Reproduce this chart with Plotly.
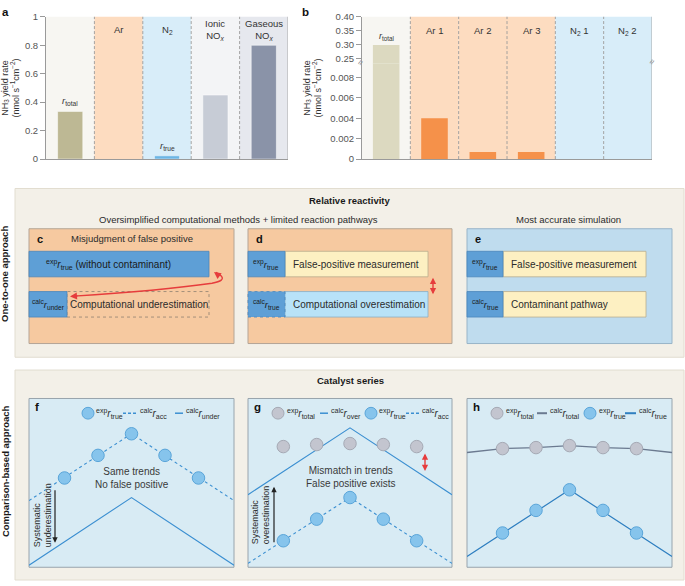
import plotly.graph_objects as go

W, H = 685, 586
FONT = "Liberation Sans, Arial, sans-serif"

# ---------------- data ----------------
a_categories = ["r_total", "Ar", "N2", "Ionic NOx", "Gaseous NOx"]
a_values = [0.335, None, 0.023, 0.45, 0.80]
a_bar_colors = ["#bdb894", "#f5914a", "#6cb5e4", "#c7ccd6", "#8a93a8"]
a_bg_colors = ["#f7f6f2", "#fddcc0", "#d8edf9", "#f3f4f6", "#e6e8ee"]
a_column_labels = ["", "Ar", "N<sub>2</sub>", "Ionic<br>NO<sub><i>x</i></sub>", "Gaseous<br>NO<sub><i>x</i></sub>"]
a_ticks = [0, 0.2, 0.4, 0.6, 0.8, 1]
a_ticktext = ["0", "0.2", "0.4", "0.6", "0.8", "1"]

b_categories = ["r_total", "Ar 1", "Ar 2", "Ar 3", "N2 1", "N2 2"]
b_values = [0.298, 0.004, 0.0007, 0.0007, None, None]
b_bar_colors = ["#dcd9c0", "#f5914a", "#f5914a", "#f5914a", "#6cb5e4", "#6cb5e4"]
b_bg_colors = ["#f7f6f2", "#fddcc0", "#fddcc0", "#fddcc0", "#d8edf9", "#d8edf9"]
b_column_labels = ["", "Ar 1", "Ar 2", "Ar 3", "N<sub>2</sub> 1", "N<sub>2</sub> 2"]
b_low_ticks = [0, 0.002, 0.004, 0.006, 0.008]
b_low_ticktext = ["0", "0.002", "0.004", "0.006", "0.008"]
b_high_ticks = [0.25, 0.30, 0.35, 0.40]
b_high_ticktext = ["0.25", "0.30", "0.35", "0.40"]

series_x = [-2, -1, 0, 1, 2]
line_x = [-3.06, 0, 3.06]
f_exp_true = [5.29, 6.63, 7.91, 6.63, 5.29]
f_calc_acc = [3.95, 7.91, 3.95]
f_calc_under = [0.12, 4.13, 0.12]
g_exp_total = [7.15, 7.27, 7.33, 7.27, 7.15]
g_calc_over = [4.30, 8.26, 4.30]
g_exp_true = [1.57, 2.85, 4.13, 2.85, 1.57]
g_calc_acc = [0.23, 4.13, 0.23]
h_exp_total = [7.03, 7.09, 7.21, 7.09, 7.03]
h_calc_total_x = [-3.06, -2, -1, 0, 1, 2, 3.06]
h_calc_total = [6.80, 7.03, 7.09, 7.21, 7.09, 7.03, 6.80]
h_exp_true = [2.03, 3.37, 4.59, 3.37, 2.03]
h_calc_true = [0.64, 4.59, 0.64]

# ---------------- helpers ----------------
def X(px):
    return px / W

def Y(py):
    return 1 - py / H

shapes = []
annotations = []

def rect(x0, y0, x1, y1, fill, line="rgba(0,0,0,0)", lw=1, dash="solid", layer="below"):
    shapes.append(dict(type="rect", xref="paper", yref="paper", x0=X(x0), x1=X(x1), y0=Y(y1), y1=Y(y0),
                       fillcolor=fill, line=dict(color=line, width=lw, dash=dash), layer=layer))

def text(x, y, t, size=9, color="#2b2b2b", xanchor="center", yanchor="middle", bold=False, angle=0, align="center"):
    if bold:
        t = "<b>" + t + "</b>"
    annotations.append(dict(x=X(x), y=Y(y), xref="paper", yref="paper", text=t, showarrow=False,
                            xanchor=xanchor, yanchor=yanchor, textangle=angle, align=align,
                            font=dict(size=size, color=color, family=FONT)))

def arrow(x, y, ax, ay, color, width=1.3, side="end", size=1.0):
    annotations.append(dict(x=X(x), y=Y(y), xref="paper", yref="paper", text="", showarrow=True,
                            ax=ax, ay=ay, arrowhead=2, arrowsize=size, arrowwidth=width,
                            arrowcolor=color, arrowside=side))

def hline(x0, x1, y, color, width=1.2, dash="solid"):
    shapes.append(dict(type="line", xref="paper", yref="paper", x0=X(x0), x1=X(x1), y0=Y(y), y1=Y(y),
                       line=dict(color=color, width=width, dash=dash), layer="above"))

def circ(cx, cy, r, fill, line):
    shapes.append(dict(type="circle", xref="paper", yref="paper", x0=X(cx - r), x1=X(cx + r),
                       y0=Y(cy + r), y1=Y(cy - r), fillcolor=fill, line=dict(color=line, width=1), layer="above"))

BLUE_M = "#86c4ec"; BLUE_ML = "#5aa5d9"
GREY_M = "#c3c5cf"; GREY_ML = "#a5a9b4"
LINE_BLUE = "#3b8fd1"; LINE_GREY = "#6b7a90"
RED = "#e63c3c"

fig = go.Figure()

# ---------------- panel a ----------------
for i, c in enumerate(a_bg_colors):
    shapes.append(dict(type="rect", xref="x", yref="y domain", x0=i - 0.5, x1=i + 0.5, y0=0, y1=1,
                       fillcolor=c, line=dict(width=0), layer="below"))
for i in range(1, len(a_categories)):
    shapes.append(dict(type="line", xref="x", yref="y domain", x0=i - 0.5, x1=i - 0.5, y0=0, y1=1,
                       line=dict(color="#9a9a9a", width=0.9, dash="3px,2px"), layer="below"))
shapes.append(dict(type="line", xref="x", yref="y domain", x0=len(a_categories) - 0.5, x1=len(a_categories) - 0.5,
                   y0=0, y1=1, line=dict(color="#aaaaaa", width=1), layer="above"))
fig.add_trace(go.Bar(x=list(range(len(a_categories))), y=a_values, width=0.52,
                     marker=dict(color=a_bar_colors, line=dict(color="rgba(255,255,255,0.5)", width=1)),
                     xaxis="x", yaxis="y", showlegend=False, hoverinfo="skip"))
for i, lab in enumerate(a_column_labels):
    if lab:
        annotations.append(dict(x=i, y=Y(24), xref="x", yref="paper", text=lab, showarrow=False,
                                xanchor="center", yanchor="middle", font=dict(size=9.5, color="#333", family=FONT)))
annotations.append(dict(x=0, y=a_values[0], xref="x", yref="y", text="<i>r</i><sub>total</sub>", showarrow=False,
                        yanchor="bottom", yshift=2, font=dict(size=9.5, color="#333", family=FONT)))
annotations.append(dict(x=2, y=a_values[2], xref="x", yref="y", text="<i>r</i><sub>true</sub>", showarrow=False,
                        yanchor="bottom", yshift=2, font=dict(size=9.5, color="#333", family=FONT)))
text(11, 84, "NH<sub>3</sub> yield rate<br>(nmol s<sup>−1</sup>cm<sup>−2</sup>)", size=9, angle=-90, color="#333")
text(5, 6, "a", size=11.5, bold=True, color="#111")

# ---------------- panel b ----------------
for i, c in enumerate(b_bg_colors):
    shapes.append(dict(type="rect", xref="x2", yref="paper", x0=i - 0.5, x1=i + 0.5, y0=Y(156), y1=Y(11),
                       fillcolor=c, line=dict(width=0), layer="below"))
for i in range(1, len(b_categories)):
    shapes.append(dict(type="line", xref="x2", yref="paper", x0=i - 0.5, x1=i - 0.5, y0=Y(156), y1=Y(11),
                       line=dict(color="#9a9a9a", width=0.9, dash="3px,2px"), layer="below"))
shapes.append(dict(type="line", xref="x2", yref="paper", x0=len(b_categories) - 0.5, x1=len(b_categories) - 0.5,
                   y0=Y(156), y1=Y(11), line=dict(color="#aaaaaa", width=1), layer="above"))
fig.add_trace(go.Bar(x=list(range(len(b_categories))), y=b_values, width=0.55,
                     marker=dict(color=b_bar_colors, line=dict(width=0)),
                     xaxis="x2", yaxis="y2", showlegend=False, hoverinfo="skip"))
fig.add_trace(go.Bar(x=list(range(len(b_categories))), y=b_values, width=0.55,
                     marker=dict(color=b_bar_colors, line=dict(width=0)),
                     xaxis="x2", yaxis="y3", showlegend=False, hoverinfo="skip"))
for i, lab in enumerate(b_column_labels):
    if lab:
        annotations.append(dict(x=i, y=Y(25), xref="x2", yref="paper", text=lab, showarrow=False,
                                xanchor="center", yanchor="middle", font=dict(size=9.5, color="#333", family=FONT)))
annotations.append(dict(x=0, y=b_values[0], xref="x2", yref="y3", text="<i>r</i><sub>total</sub>", showarrow=False,
                        yanchor="bottom", yshift=1, font=dict(size=9, color="#333", family=FONT)))
text(313, 84, "NH<sub>3</sub> yield rate<br>(nmol s<sup>−1</sup>cm<sup>−2</sup>)", size=9, angle=-90, color="#333")
text(305, 6, "b", size=11.5, bold=True, color="#111")
text(361, 57.5, "≈", size=9, color="#888", angle=-60)
text(652, 57.5, "≈", size=9, color="#888", angle=-60)

# ---------------- box 1: relative reactivity ----------------
rect(15, 186, 684, 358, "#f3f0e8", "#e2ddd0", 1)
text(350, 198, "Relative reactivity", size=9.5, bold=True, color="#1a1a1a")
text(239, 218, "Oversimplified computational methods + limited reaction pathways", size=9.5, color="#2b2b2b")
text(568, 218, "Most accurate simulation", size=9.5, color="#2b2b2b")
text(5, 273, "One-to-one approach", size=9.5, bold=True, angle=-90, color="#1a1a1a")

DARK = "#5e9fd6"; DARK_L = "#4a86bb"
YEL = "#fdf0c2"; YEL_L = "#b9ad8e"
LBLUE = "#b8e2f8"; LBLUE_L = "#8aaec4"

# c
rect(29, 227, 234, 344, "#f6c9a0", "#b4a596", 1)
text(35, 237, "c", size=11, bold=True, color="#111", xanchor="left")
text(132, 237, "Misjudgment of false positive", size=9.5)
rect(29, 250, 209, 276, DARK, DARK_L, 0.8)
text(108, 263, "<sup>exp</sup><i>r</i><sub>true</sub> (without contaminant)", size=10, color="#1a1a1a")
rect(67, 291, 209, 317, "rgba(0,0,0,0)", "#8e8070", 0.8, dash="dot")
rect(29, 291, 67, 317, DARK, DARK_L, 0.8)
text(48, 304, "<sup>calc</sup><i>r</i><sub>under</sub>", size=9.5, color="#1a1a1a")
text(139, 304, "Computational underestimation", size=10)
shapes.append(dict(type="path", xref="paper", yref="paper",
                   path="M {},{} Q {},{} {},{} Q {},{} {},{} Q {},{} {},{}".format(
                       X(74), Y(295.7), X(160), Y(290), X(212), Y(282.5),
                       X(226), Y(280), X(221), Y(275), X(218.5), Y(272.5), X(216), Y(271.5)),
                   line=dict(color=RED, width=1.4), layer="above"))
arrow(70, 296, 9, -0.7, RED, 1.4, size=1.0)
arrow(214, 271, 4, 3, RED, 1.4, size=1.0)

# d
rect(248, 227, 452, 344, "#f6c9a0", "#b4a596", 1)
text(254, 237, "d", size=11, bold=True, color="#111", xanchor="left")
rect(285, 250, 428, 276, YEL, YEL_L, 0.8)
rect(248, 250, 285, 276, DARK, DARK_L, 0.8)
text(266, 263, "<sup>exp</sup><i>r</i><sub>true</sub>", size=9.5, color="#1a1a1a")
text(291, 263, "False-positive measurement", size=10, xanchor="left")
rect(285, 291, 428, 317, LBLUE, LBLUE_L, 0.8)
rect(248, 291, 285, 317, DARK, DARK_L, 0.8, dash="dot")
text(266, 304, "<sup>calc</sup><i>r</i><sub>true</sub>", size=9.5, color="#1a1a1a")
text(291, 304, "Computational overestimation", size=10, xanchor="left")
arrow(433, 277, 0, 18, RED, 1.4, side="end+start", size=0.9)

# e
rect(467, 227, 672, 344, "#bfdcee", "#98b4c8", 1)
text(473, 237, "e", size=11, bold=True, color="#111", xanchor="left")
rect(503, 250, 646, 276, YEL, YEL_L, 0.8)
rect(467, 250, 503, 276, DARK, DARK_L, 0.8)
text(485, 263, "<sup>exp</sup><i>r</i><sub>true</sub>", size=9.5, color="#1a1a1a")
text(509, 263, "False-positive measurement", size=10, xanchor="left")
rect(503, 291, 646, 317, YEL, YEL_L, 0.8)
rect(467, 291, 503, 317, DARK, DARK_L, 0.8)
text(485, 304, "<sup>calc</sup><i>r</i><sub>true</sub>", size=9.5, color="#1a1a1a")
text(509, 304, "Contaminant pathway", size=10, xanchor="left")

# ---------------- box 2: catalyst series ----------------
rect(15, 371, 684, 585, "#f3f0e8", "#e2ddd0", 1)
text(350, 382, "Catalyst series", size=9.5, bold=True, color="#1a1a1a")
text(5, 474, "Comparison-based approach", size=9.5, bold=True, angle=-90, color="#1a1a1a")

PANEL_BG = "#d8ebf4"; PANEL_L = "#98a4ad"
rect(29, 400, 234, 572, PANEL_BG, PANEL_L, 1)
rect(248, 400, 452, 572, PANEL_BG, PANEL_L, 1)
rect(467, 400, 672, 572, PANEL_BG, PANEL_L, 1)
text(33, 409, "f", size=11.5, bold=True, color="#111", xanchor="left")
text(252, 409, "g", size=11.5, bold=True, color="#111", xanchor="left")
text(471, 409, "h", size=11.5, bold=True, color="#111", xanchor="left")

LEG = 10
# f legend
circ(88, 415, 6, BLUE_M, BLUE_ML)
text(94, 415, "<sup>exp</sup><i>r</i><sub>true</sub>", size=LEG, xanchor="left")
hline(123, 137, 415, LINE_BLUE, 1.5, "3px,2px")
text(138, 415, "<sup>calc</sup><i>r</i><sub>acc</sub>", size=LEG, xanchor="left")
hline(175, 183, 415, LINE_BLUE, 1.5)
text(184, 415, "<sup>calc</sup><i>r</i><sub>under</sub>", size=LEG, xanchor="left")
# g legend
circ(278, 415, 6, GREY_M, GREY_ML)
text(285, 415, "<sup>exp</sup><i>r</i><sub>total</sub>", size=LEG, xanchor="left")
hline(320, 328, 415, LINE_BLUE, 1.5)
text(329, 415, "<sup>calc</sup><i>r</i><sub>over</sub>", size=LEG, xanchor="left")
circ(371, 415, 6, BLUE_M, BLUE_ML)
text(377, 415, "<sup>exp</sup><i>r</i><sub>true</sub>", size=LEG, xanchor="left")
hline(406, 419, 415, LINE_BLUE, 1.5, "3px,2px")
text(420, 415, "<sup>calc</sup><i>r</i><sub>acc</sub>", size=LEG, xanchor="left")
# h legend
circ(497, 415, 6, GREY_M, GREY_ML)
text(504, 415, "<sup>exp</sup><i>r</i><sub>total</sub>", size=LEG, xanchor="left")
hline(537, 547, 415, LINE_GREY, 2)
text(548, 415, "<sup>calc</sup><i>r</i><sub>total</sub>", size=LEG, xanchor="left")
circ(590, 415, 6, BLUE_M, BLUE_ML)
text(597, 415, "<sup>exp</sup><i>r</i><sub>true</sub>", size=LEG, xanchor="left")
hline(625, 636, 415, "#2f7fc0", 2)
text(637, 415, "<sup>calc</sup><i>r</i><sub>true</sub>", size=LEG, xanchor="left")

# f traces
fig.add_trace(go.Scatter(x=line_x, y=f_calc_acc, mode="lines", line=dict(color=LINE_BLUE, width=1.1, dash="3px,3px"),
                         xaxis="x3", yaxis="y4", showlegend=False, hoverinfo="skip"))
fig.add_trace(go.Scatter(x=line_x, y=f_calc_under, mode="lines", line=dict(color=LINE_BLUE, width=1.1),
                         xaxis="x3", yaxis="y4", showlegend=False, hoverinfo="skip"))
fig.add_trace(go.Scatter(x=series_x, y=f_exp_true, mode="markers",
                         marker=dict(size=12.5, color=BLUE_M, line=dict(color=BLUE_ML, width=1)),
                         xaxis="x3", yaxis="y4", showlegend=False, hoverinfo="skip"))
text(132, 481.5, "Same trends<br>No false positive", size=10, color="#3a3a3a")
arrow(55, 547, 0, -54, "#222222", 1.2, size=0.9)
text(43, 519, "Systematic<br>underestimation", size=9, angle=-90, align="left", color="#2b2b2b")

# g traces
fig.add_trace(go.Scatter(x=line_x, y=g_calc_over, mode="lines", line=dict(color=LINE_BLUE, width=1.1),
                         xaxis="x4", yaxis="y5", showlegend=False, hoverinfo="skip"))
fig.add_trace(go.Scatter(x=line_x, y=g_calc_acc, mode="lines", line=dict(color=LINE_BLUE, width=1.1, dash="3px,3px"),
                         xaxis="x4", yaxis="y5", showlegend=False, hoverinfo="skip"))
fig.add_trace(go.Scatter(x=series_x, y=g_exp_total, mode="markers",
                         marker=dict(size=12.5, color=GREY_M, line=dict(color=GREY_ML, width=1)),
                         xaxis="x4", yaxis="y5", showlegend=False, hoverinfo="skip"))
fig.add_trace(go.Scatter(x=series_x, y=g_exp_true, mode="markers",
                         marker=dict(size=12.5, color=BLUE_M, line=dict(color=BLUE_ML, width=1)),
                         xaxis="x4", yaxis="y5", showlegend=False, hoverinfo="skip"))
text(350, 480.5, "Mismatch in trends<br>False positive exists", size=10, color="#3a3a3a")
arrow(274, 490, 0, 57, "#222222", 1.2, size=0.9)
text(261, 519, "Systematic<br>overestimation", size=9, angle=-90, align="left", color="#2b2b2b")
arrow(425, 456, 0, 19, RED, 1.4, side="end+start", size=0.9)

# h traces
fig.add_trace(go.Scatter(x=h_calc_total_x, y=h_calc_total, mode="lines", line=dict(color=LINE_GREY, width=1.3),
                         xaxis="x5", yaxis="y6", showlegend=False, hoverinfo="skip"))
fig.add_trace(go.Scatter(x=line_x, y=h_calc_true, mode="lines", line=dict(color="#2f7fc0", width=1.2),
                         xaxis="x5", yaxis="y6", showlegend=False, hoverinfo="skip"))
fig.add_trace(go.Scatter(x=series_x, y=h_exp_total, mode="markers",
                         marker=dict(size=12.5, color=GREY_M, line=dict(color=GREY_ML, width=1)),
                         xaxis="x5", yaxis="y6", showlegend=False, hoverinfo="skip"))
fig.add_trace(go.Scatter(x=series_x, y=h_exp_true, mode="markers",
                         marker=dict(size=12.5, color=BLUE_M, line=dict(color=BLUE_ML, width=1)),
                         xaxis="x5", yaxis="y6", showlegend=False, hoverinfo="skip"))

# ---------------- axes ----------------
tickfont = dict(size=9.5, color="#555", family=FONT)
ax_line = "#9a9a9a"
hidden = dict(visible=False, showgrid=False, zeroline=False, fixedrange=True)
BREAK = 58.5
low_top = 0.008 * (156 - BREAK) / (156 - 72.7)
high_bottom = 0.40 - 0.15 * (BREAK - 11) / (53.3 - 11)

layout = dict(
    width=W, height=H, margin=dict(l=0, r=0, t=0, b=0),
    paper_bgcolor="white", plot_bgcolor="rgba(0,0,0,0)",
    font=dict(family=FONT, color="#333"), barmode="overlay", showlegend=False,
    xaxis=dict(domain=[X(46), X(288)], range=[-0.5, 4.5], anchor="y", showticklabels=False, ticks="",
               showline=True, linecolor=ax_line, linewidth=1, showgrid=False, zeroline=False),
    yaxis=dict(domain=[Y(156), Y(11)], range=[0, 1], anchor="x", tickvals=a_ticks, ticktext=a_ticktext,
               ticks="outside", ticklen=5, tickcolor=ax_line, showline=True, linecolor=ax_line, linewidth=1,
               showgrid=False, zeroline=False, tickfont=tickfont),
    xaxis2=dict(domain=[X(362), X(652)], range=[-0.5, 5.5], anchor="y2", showticklabels=False, ticks="",
                showline=True, linecolor=ax_line, linewidth=1, showgrid=False, zeroline=False),
    yaxis2=dict(domain=[Y(156), Y(BREAK)], range=[0, low_top], anchor="x2", tickvals=b_low_ticks,
                ticktext=b_low_ticktext, ticks="outside", ticklen=5, tickcolor=ax_line, showline=True,
                linecolor=ax_line, linewidth=1, showgrid=False, zeroline=False, tickfont=tickfont),
    yaxis3=dict(domain=[Y(BREAK), Y(11)], range=[high_bottom, 0.40], anchor="x2", tickvals=b_high_ticks,
                ticktext=b_high_ticktext, ticks="outside", ticklen=5, tickcolor=ax_line, showline=True,
                linecolor=ax_line, linewidth=1, showgrid=False, zeroline=False, tickfont=tickfont),
    xaxis3=dict(domain=[X(29), X(234)], range=[-3.06, 3.06], anchor="y4", **hidden),
    yaxis4=dict(domain=[Y(572), Y(400)], range=[0, 10], anchor="x3", **hidden),
    xaxis4=dict(domain=[X(248), X(452)], range=[-3.06, 3.06], anchor="y5", **hidden),
    yaxis5=dict(domain=[Y(572), Y(400)], range=[0, 10], anchor="x4", **hidden),
    xaxis5=dict(domain=[X(467), X(672)], range=[-3.06, 3.06], anchor="y6", **hidden),
    yaxis6=dict(domain=[Y(572), Y(400)], range=[0, 10], anchor="x5", **hidden),
    shapes=shapes, annotations=annotations,
)
fig.update_layout(**layout)
fig.write_html("out.html", config={"displayModeBar": False},
               post_script="document.body.style.margin='0';document.body.style.padding='0';")
